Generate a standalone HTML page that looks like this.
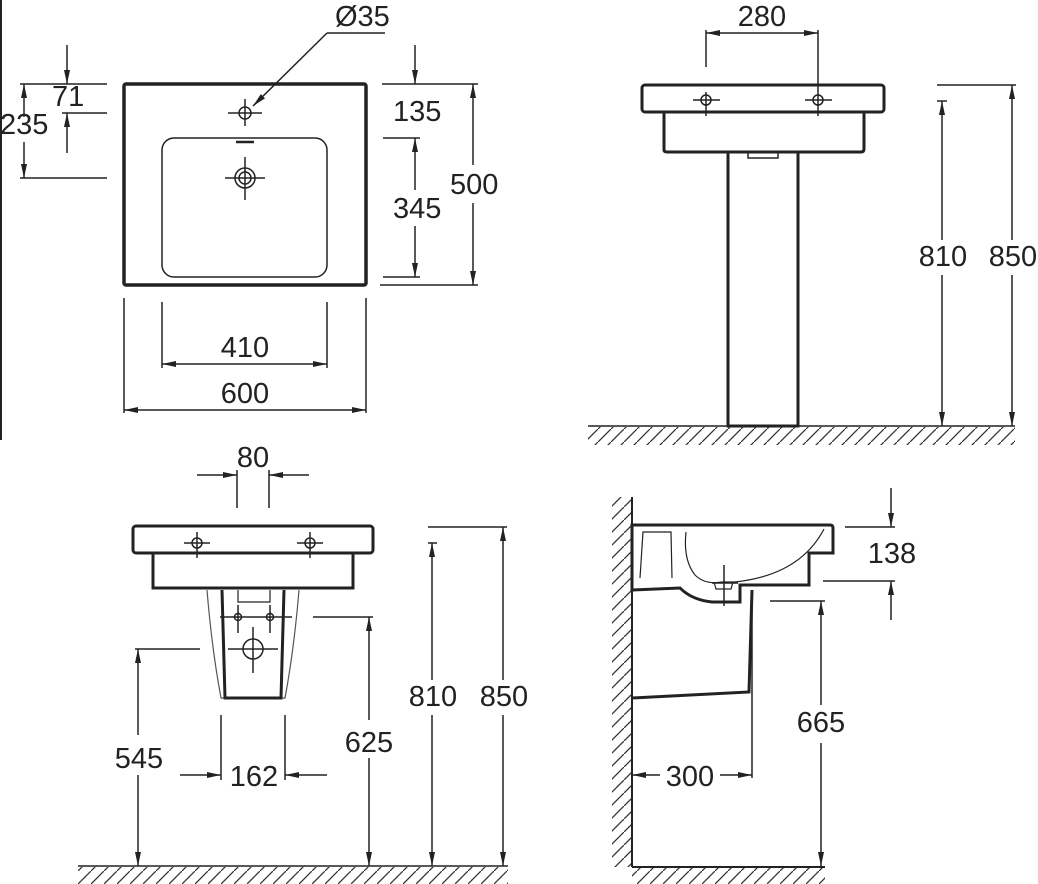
<!DOCTYPE html>
<html><head><meta charset="utf-8"><style>
html,body{margin:0;padding:0;background:#fff;}
svg{display:block;}
text{font-family:"Liberation Sans",Arial,sans-serif;font-size:29px;fill:#222;}
</style></head><body>
<svg width="1038" height="884" viewBox="0 0 1038 884" xmlns="http://www.w3.org/2000/svg">
<defs>
<marker id="a" markerWidth="14" markerHeight="6" refX="14" refY="3" orient="auto-start-reverse" markerUnits="userSpaceOnUse">
<path d="M0,0 L14,3 L0,6 Z" fill="#222"/></marker>
<pattern id="h" patternUnits="userSpaceOnUse" width="13" height="13">
<line x1="0" y1="13" x2="13" y2="0" stroke="#333" stroke-width="1.3"/></pattern>
</defs>
<g stroke="#222" fill="none" stroke-width="1.5">
<line x1="1" y1="0" x2="1" y2="440" stroke-width="2"/>
<!-- TOP LEFT -->
<rect x="124" y="84" width="242" height="201" rx="2" stroke-width="3.5"/>
<rect x="162" y="138" width="165" height="139" rx="12"/>
<circle cx="245" cy="113" r="6"/>
<line x1="228" y1="113" x2="262" y2="113"/><line x1="245" y1="99" x2="245" y2="126"/>
<line x1="236" y1="142" x2="254" y2="142" stroke-width="2.5"/>
<circle cx="245" cy="178" r="10"/><circle cx="245" cy="178" r="6"/>
<line x1="225" y1="178" x2="265" y2="178"/><line x1="245" y1="157" x2="245" y2="200"/>
<polyline points="385,33 327,33"/><line x1="327" y1="33" x2="253" y2="106" marker-end="url(#a)"/>
<line x1="20" y1="84" x2="107" y2="84"/><line x1="62" y1="113" x2="107" y2="113"/><line x1="20" y1="178" x2="107" y2="178"/>
<line x1="67" y1="45" x2="67" y2="84" marker-end="url(#a)"/>
<line x1="67" y1="153" x2="67" y2="113" marker-end="url(#a)"/>
<line x1="24" y1="117" x2="24" y2="84" marker-end="url(#a)"/>
<line x1="24" y1="142" x2="24" y2="178" marker-end="url(#a)"/>
<line x1="382" y1="84" x2="478" y2="84"/><line x1="383" y1="138" x2="420" y2="138"/>
<line x1="383" y1="277" x2="420" y2="277"/><line x1="380" y1="285" x2="478" y2="285"/>
<line x1="415" y1="45" x2="415" y2="84" marker-end="url(#a)"/>
<line x1="415" y1="190" x2="415" y2="138" marker-end="url(#a)"/>
<line x1="415" y1="226" x2="415" y2="277" marker-end="url(#a)"/>
<line x1="473" y1="165" x2="473" y2="84" marker-end="url(#a)"/>
<line x1="473" y1="203" x2="473" y2="285" marker-end="url(#a)"/>
<line x1="124" y1="298" x2="124" y2="413"/><line x1="366" y1="298" x2="366" y2="413"/>
<line x1="162" y1="302" x2="162" y2="368"/><line x1="327" y1="302" x2="327" y2="368"/>
<line x1="245" y1="364" x2="162" y2="364" marker-end="url(#a)"/><line x1="245" y1="364" x2="327" y2="364" marker-end="url(#a)"/>
<line x1="245" y1="410" x2="124" y2="410" marker-end="url(#a)"/><line x1="245" y1="410" x2="366" y2="410" marker-end="url(#a)"/>
<!-- TOP RIGHT -->
<rect x="642" y="85" width="242" height="27" rx="3" stroke-width="3"/>
<path d="M664,112 L664,150 Q664,152 667,152 L861,152 Q864,152 864,149 L864,112" stroke-width="3"/>
<rect x="728" y="152" width="70" height="274" stroke-width="3"/>
<rect x="748" y="152" width="30" height="6"/>
<circle cx="706" cy="100" r="5"/><circle cx="818" cy="100" r="5"/>
<line x1="693" y1="100" x2="720" y2="100"/><line x1="805" y1="100" x2="832" y2="100"/>
<line x1="706" y1="30" x2="706" y2="67"/><line x1="706" y1="92" x2="706" y2="116"/>
<line x1="818" y1="30" x2="818" y2="116"/>
<line x1="762" y1="33" x2="706" y2="33" marker-end="url(#a)"/><line x1="762" y1="33" x2="818" y2="33" marker-end="url(#a)"/>
<line x1="588" y1="426" x2="1015" y2="426"/>
<line x1="937" y1="101" x2="947" y2="101"/>
<line x1="942" y1="240" x2="942" y2="101" marker-end="url(#a)"/>
<line x1="942" y1="275" x2="942" y2="426" marker-end="url(#a)"/>
<line x1="937" y1="85" x2="1016" y2="85"/>
<line x1="1012" y1="240" x2="1012" y2="85" marker-end="url(#a)"/>
<line x1="1012" y1="275" x2="1012" y2="426" marker-end="url(#a)"/>
<!-- BOTTOM LEFT -->
<rect x="133" y="526" width="240" height="27" rx="3" stroke-width="3"/>
<path d="M153,553 L153,588 L353,588 L353,553" stroke-width="3"/>
<path d="M207,590 Q212,650 221,698 L285,698 Q294,650 299,590" stroke-width="1.2" stroke="#555"/>
<path d="M222,590 L225,698 L281,698 L284,590" stroke-width="3"/>
<path d="M238,590 L238,602 L270,602 L270,590" stroke-width="1.2"/>
<circle cx="197" cy="543" r="5"/><circle cx="310" cy="543" r="5"/>
<line x1="184" y1="543" x2="210" y2="543"/><line x1="297" y1="543" x2="323" y2="543"/>
<line x1="197" y1="532" x2="197" y2="558"/><line x1="310" y1="532" x2="310" y2="558"/>
<circle cx="238" cy="617" r="3.5"/><circle cx="270" cy="617" r="3.5"/>
<line x1="220" y1="617" x2="292" y2="617"/><line x1="238" y1="605" x2="238" y2="633"/><line x1="270" y1="605" x2="270" y2="633"/>
<circle cx="253" cy="649" r="10"/>
<line x1="228" y1="649" x2="278" y2="649"/><line x1="253" y1="627" x2="253" y2="673"/>
<line x1="237" y1="470" x2="237" y2="508"/><line x1="269" y1="470" x2="269" y2="508"/>
<line x1="197" y1="475" x2="237" y2="475" marker-end="url(#a)"/><line x1="309" y1="475" x2="269" y2="475" marker-end="url(#a)"/>
<line x1="313" y1="617" x2="373" y2="617"/>
<line x1="369" y1="720" x2="369" y2="617" marker-end="url(#a)"/>
<line x1="369" y1="758" x2="369" y2="866" marker-end="url(#a)"/>
<line x1="135" y1="649" x2="200" y2="649"/>
<line x1="138" y1="735" x2="138" y2="649" marker-end="url(#a)"/>
<line x1="138" y1="775" x2="138" y2="866" marker-end="url(#a)"/>
<line x1="221" y1="715" x2="221" y2="780"/><line x1="285" y1="715" x2="285" y2="780"/>
<line x1="180" y1="775" x2="221" y2="775" marker-end="url(#a)"/><line x1="327" y1="775" x2="285" y2="775" marker-end="url(#a)"/>
<line x1="428" y1="543" x2="437" y2="543"/>
<line x1="432" y1="680" x2="432" y2="543" marker-end="url(#a)"/>
<line x1="432" y1="715" x2="432" y2="866" marker-end="url(#a)"/>
<line x1="428" y1="527" x2="507" y2="527"/>
<line x1="503" y1="680" x2="503" y2="527" marker-end="url(#a)"/>
<line x1="503" y1="715" x2="503" y2="866" marker-end="url(#a)"/>
<line x1="78" y1="866" x2="508" y2="866"/>
<!-- BOTTOM RIGHT -->
<line x1="632" y1="497" x2="632" y2="867" stroke-width="2"/>
<line x1="632" y1="867" x2="825" y2="867" stroke-width="2"/>
<path d="M632,525 L830,525 Q833,525 833,528 L833,553 L809,553 L809,585 L740,585 L740,602 L712,602 Q692,600 680,588 L632,590 Z" stroke-width="3"/>
<path d="M640,578 L643,532 L671,532 L672,578" stroke-width="1.2"/>
<path d="M686,532 Q683,560 695,575 Q705,585 722,582 L735,582 Q800,575 824,529" stroke-width="1.2"/>
<path d="M714,582 L716,589 L731,589 L733,582" stroke-width="1.2"/>
<line x1="724" y1="565" x2="724" y2="606"/><line x1="712" y1="583" x2="738" y2="583"/>
<path d="M752,590 L749,692 L632,698" stroke-width="3"/>
<line x1="845" y1="527" x2="895" y2="527"/><line x1="891" y1="488" x2="891" y2="527" marker-end="url(#a)"/>
<line x1="823" y1="581" x2="895" y2="581"/><line x1="891" y1="620" x2="891" y2="581" marker-end="url(#a)"/>
<line x1="770" y1="601" x2="825" y2="601"/>
<line x1="821" y1="705" x2="821" y2="601" marker-end="url(#a)"/>
<line x1="821" y1="743" x2="821" y2="866" marker-end="url(#a)"/>
<line x1="752" y1="600" x2="752" y2="778"/>
<line x1="660" y1="775" x2="632" y2="775" marker-end="url(#a)"/><line x1="720" y1="775" x2="752" y2="775" marker-end="url(#a)"/>
</g>
<rect x="588" y="427" width="427" height="18" fill="url(#h)"/>
<rect x="78" y="867" width="430" height="17" fill="url(#h)"/>
<rect x="612" y="497" width="19" height="370" fill="url(#h)"/>
<rect x="632" y="868" width="193" height="16" fill="url(#h)"/>
<g>
<text x="335" y="26">Ø35</text>
<text x="52" y="106">71</text>
<text x="0" y="134">235</text>
<text x="393" y="121">135</text>
<text x="393" y="218">345</text>
<text x="450" y="194">500</text>
<text x="245" y="357" text-anchor="middle">410</text>
<text x="245" y="403" text-anchor="middle">600</text>
<text x="762" y="26" text-anchor="middle">280</text>
<text x="943" y="266" text-anchor="middle">810</text>
<text x="1013" y="266" text-anchor="middle">850</text>
<text x="253" y="467" text-anchor="middle">80</text>
<text x="369" y="752" text-anchor="middle">625</text>
<text x="139" y="768" text-anchor="middle">545</text>
<text x="254" y="786" text-anchor="middle">162</text>
<text x="433" y="706" text-anchor="middle">810</text>
<text x="504" y="706" text-anchor="middle">850</text>
<text x="892" y="563" text-anchor="middle">138</text>
<text x="821" y="732" text-anchor="middle">665</text>
<text x="690" y="786" text-anchor="middle">300</text>
</g>
</svg>
</body></html>
